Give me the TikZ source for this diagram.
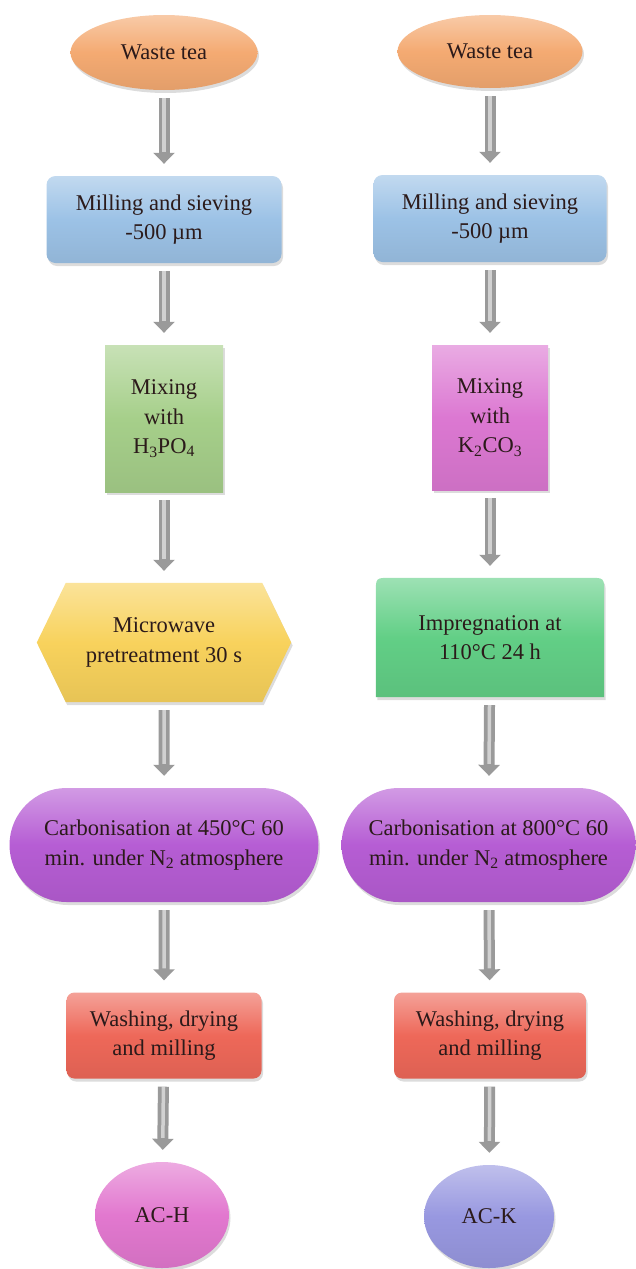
\documentclass[tikz,border=0pt]{standalone}
\usepackage{fontspec}
\setmainfont{Liberation Serif}
\usetikzlibrary{shapes.geometric,shapes.misc,shadows,arrows.meta,backgrounds}
\definecolor{txt}{HTML}{2B1A1A}
\definecolor{peach}{HTML}{F4AA72}
\definecolor{skyb}{HTML}{9CC2E6}
\definecolor{leaf}{HTML}{A6CF8A}
\definecolor{mag}{HTML}{DC78D2}
\definecolor{yel}{HTML}{F8D25C}
\definecolor{mint}{HTML}{62CF86}
\definecolor{purp}{HTML}{B65DD4}
\definecolor{coral}{HTML}{EE6859}
\definecolor{pinkc}{HTML}{E278CF}
\definecolor{lav}{HTML}{9898E0}
\definecolor{arrg}{HTML}{9A9A9A}
\begin{document}
\begin{tikzpicture}[x=1pt,y=-1pt,
  base/.style={inner sep=0pt, align=center, text=txt, font=\fontsize{22.5}{29.5}\selectfont},
  grad/.style={top color=#1!62!white, bottom color=#1!93!black, middle color=#1},
  shd/.style={drop shadow={shadow xshift=1.5pt,shadow yshift=-3pt,opacity=0.28}},
  ell/.style={base, ellipse, grad=#1, shd},
  rbox/.style={base, rectangle, rounded corners=9pt, grad=#1, shd},
  sbox/.style={base, rectangle, grad=#1, shd},
  pill/.style={base, rounded rectangle, grad=#1, shd},
  plain/.style={base, rectangle},
  arr/.style={line width=11pt, draw=arrg, -{Triangle[width=21pt,length=11pt]}, shorten <=8pt, shorten >=12pt},
  arrhi/.style={line width=3.5pt, draw=white, draw opacity=0.55, shorten <=8pt, shorten >=24pt}
]
\useasboundingbox (0,0) rectangle (635,1269);

% left column
\node[ell=peach, minimum width=187pt, minimum height=75pt] (l1) at (164,52.5) {Waste tea};
\node[rbox=skyb, minimum width=235pt, minimum height=87pt] (l2) at (164,219.5) {Milling and sieving\\-500 µm};
\node[sbox=leaf, minimum width=118pt, minimum height=147pt] (l3) at (164,418.5) {Mixing\\with\\H\textsubscript{3}PO\textsubscript{4}};
\node[plain, minimum width=254pt, minimum height=119pt] (l4) at (164,642.5) {Microwave\\pretreatment 30 s};
\node[pill=purp, minimum width=309pt, minimum height=114pt] (l5) at (164,845) {Carbonisation at 450°C 60\\min. under N\textsubscript{2} atmosphere};
\node[rbox=coral, rounded corners=8pt, minimum width=195pt, minimum height=86pt] (l6) at (164,1035.5) {Washing, drying\\and milling};
\node[ell=pinkc, minimum width=134pt, minimum height=106pt] (l7) at (162,1215) {AC-H};

% right column
\node[ell=peach, minimum width=185pt, minimum height=73pt] (r1) at (490,51.5) {Waste tea};
\node[rbox=skyb, minimum width=233pt, minimum height=87pt] (r2) at (490,218.5) {Milling and sieving\\-500 µm};
\node[sbox=mag, minimum width=116pt, minimum height=145pt] (r3) at (490,417.5) {Mixing\\with\\K\textsubscript{2}CO\textsubscript{3}};
\node[plain, minimum width=228pt, minimum height=119pt] (r4) at (490,637.5) {Impregnation at\\110°C 24 h};
\node[pill=purp, minimum width=294pt, minimum height=114pt] (r5) at (488.5,845) {Carbonisation at 800°C 60\\min. under N\textsubscript{2} atmosphere};
\node[rbox=coral, rounded corners=8pt, minimum width=192pt, minimum height=86pt] (r6) at (490,1035.5) {Washing, drying\\and milling};
\node[ell=lav, minimum width=130pt, minimum height=103pt] (r7) at (489,1216.5) {AC-K};

\begin{pgfonlayer}{background}
  % hexagon behind l4
  \path[grad=yel, shd] (l4.west) -- ([xshift=29pt]l4.north west) -- ([xshift=-29pt]l4.north east)
     -- (l4.east) -- ([xshift=-29pt]l4.south east) -- ([xshift=29pt]l4.south west) -- cycle;
  % top-rounded box behind r4
  \path[grad=mint, shd] (r4.south west) -- ([yshift=-15pt]r4.north west)
     .. controls (r4.north west) .. ([xshift=15pt]r4.north west)
     -- ([xshift=-15pt]r4.north east)
     .. controls (r4.north east) .. ([yshift=-15pt]r4.north east)
     -- (r4.south east) -- cycle;
\end{pgfonlayer}

% arrows
\foreach \c in {l,r}{
  \foreach \a/\b in {1/2,2/3,3/4,4/5,5/6,6/7}{
    \draw[arr] (\c\a) -- (\c\b);
    \draw[arrhi] (\c\a) -- (\c\b);
  }
}
\end{tikzpicture}
\end{document}
